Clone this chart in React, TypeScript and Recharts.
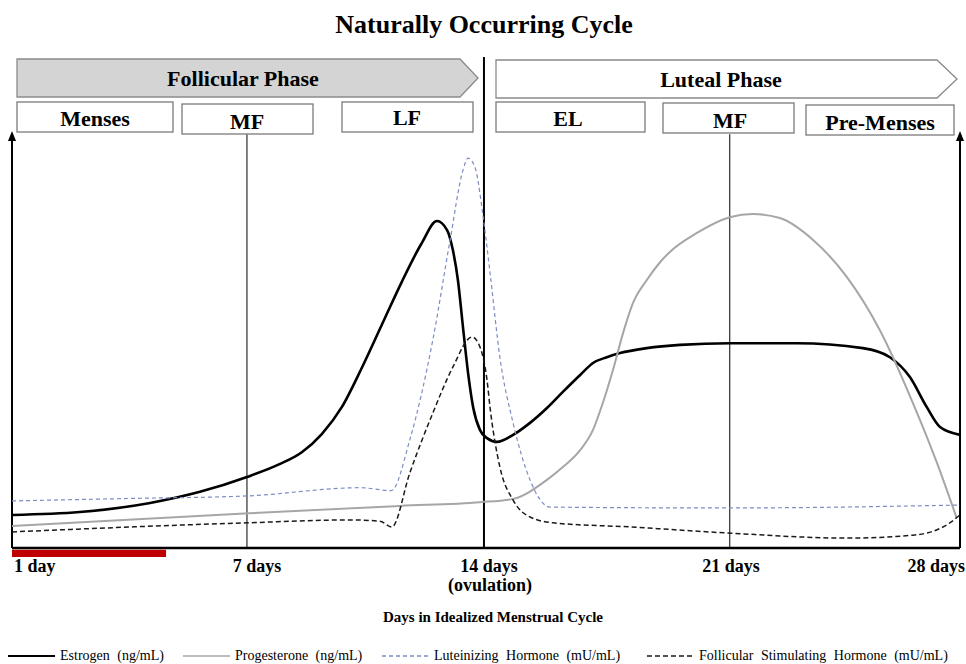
import React from 'react';
import {
  LineChart,
  Line,
  XAxis,
  YAxis,
  ReferenceLine,
  ReferenceArea,
  ReferenceDot,
  Legend,
} from 'recharts';

const TITLE = 'Naturally Occurring Cycle';
const X_TITLE = 'Days in Idealized Menstrual Cycle';
const PHASES = ['Follicular Phase', 'Luteal Phase'];
const SUB_PHASES = ['Menses', 'MF', 'LF', 'EL', 'MF', 'Pre-Menses'];

const TICK_DAYS = [0, 7, 14, 21, 28];
const TICK_LABELS = ['1 day', '7 days', '14 days|(ovulation)', '21 days', '28 days'];
const MARKER_DAYS = [6.94, 13.94, 21.2];
const MENSES_END_DAY = 4.55;

const SERIES_NAMES = [
  'Estrogen (ng/mL)',
  'Progesterone (ng/mL)',
  'Luteinizing Hormone (mU/mL)',
  'Follicular Stimulating Hormone (mU/mL)',
];

const ESTROGEN_DAYS = [0, 2.0, 4.08, 5.55, 6.94, 7.9, 8.56, 9.15, 9.74, 10.33, 10.92, 11.51, 12.1, 12.55, 12.85, 13.02, 13.17, 13.32, 13.47, 13.62, 13.82, 14.03, 14.32, 14.8, 15.3, 15.8, 16.27, 16.78, 17.16, 17.57, 17.96, 18.75, 19.73, 21.2, 23.18, 25.13, 25.93, 26.52, 27.02, 27.41, 28];
const ESTROGEN_LEVELS = [8.0, 8.7, 10.9, 13.6, 17.2, 20.3, 23.2, 27.6, 34.1, 43.6, 54.0, 64.4, 73.8, 79.2, 77.0, 72.2, 64.9, 53.5, 42.4, 34.1, 28.6, 26.6, 25.7, 27.4, 30.3, 33.9, 37.8, 41.9, 44.8, 46.2, 47.2, 48.4, 49.2, 49.6, 49.6, 48.4, 46.2, 41.4, 34.1, 29.3, 27.4];

const PROGESTERONE_DAYS = [0, 7, 11.46, 13.82, 14.8, 15.8, 16.27, 16.78, 17.16, 17.45, 17.75, 18.05, 18.34, 18.75, 19.14, 19.43, 20.23, 21.2, 21.88, 22.68, 23.66, 24.66, 25.63, 26.61, 27.32, 27.9];
const PROGESTERONE_LEVELS = [5.3, 8.4, 10.2, 11.1, 11.9, 16.5, 19.6, 23.7, 28.6, 35.1, 43.1, 52.1, 59.3, 64.9, 69.2, 71.7, 76.3, 80.1, 80.9, 79.9, 74.6, 65.6, 52.8, 35.1, 20.6, 7.3];

const LH_DAYS = [0, 3.5, 6.94, 10.28, 11.2, 11.75, 12.43, 12.94, 13.32, 13.47, 13.67, 13.91, 14.12, 14.41, 14.8, 15.3, 15.89, 21.2, 28];
const LH_LEVELS = [11.4, 12.0, 12.6, 14.6, 13.9, 26.2, 50.4, 74.6, 91.5, 94.4, 92.3, 80.6, 66.6, 46.2, 30.3, 16.5, 9.9, 9.7, 10.4];

const FSH_DAYS = [0, 6.94, 9.98, 10.87, 11.22, 11.75, 12.43, 13.02, 13.59, 13.82, 14.03, 14.12, 14.41, 14.8, 15.3, 15.98, 18.25, 21.2, 24.66, 26.61, 27.61, 28];
const FSH_LEVELS = [3.9, 6.1, 6.8, 6.5, 5.1, 18.2, 32.7, 43.8, 51.1, 48.7, 40.7, 34.0, 19.6, 11.6, 7.5, 6.1, 5.1, 3.6, 2.4, 3.1, 5.6, 8.0];

const Y_MAX = 118.9;
const AXIS_TOP = 101;
const MARKER_TOP = 100.2;

const zip = (days: number[], levels: number[]) => days.map((d, i) => ({ day: d, level: levels[i] }));

const estrogenData = zip(ESTROGEN_DAYS, ESTROGEN_LEVELS);
const progesteroneData = zip(PROGESTERONE_DAYS, PROGESTERONE_LEVELS);
const lhData = zip(LH_DAYS, LH_LEVELS);
const fshData = zip(FSH_DAYS, FSH_LEVELS);

const FONT = "'Liberation Serif', 'Times New Roman', serif";

const SERIES_STYLE = [
  { stroke: '#000000', width: 2.6, dash: undefined as string | undefined },
  { stroke: '#a6a6a6', width: 2, dash: undefined as string | undefined },
  { stroke: '#7d8cc4', width: 1.2, dash: '4 3' },
  { stroke: '#1a1a1a', width: 1.5, dash: '5 3' },
];

const TICK_DX = [2, 8, 3, 8, 5];
const TICK_ANCHOR = ['start', 'middle', 'middle', 'middle', 'end'];

function DayTick(props: any) {
  const { x, y, payload } = props;
  const i = TICK_DAYS.indexOf(payload.value);
  const lines = (TICK_LABELS[i] || '').split('|');
  return (
    <g>
      {lines.map((t, k) => (
        <text
          key={k}
          x={x + TICK_DX[i] + (k === 1 ? 1 : 0)}
          y={y + 24 + k * 19}
          textAnchor={TICK_ANCHOR[i] as any}
          fontFamily={FONT}
          fontWeight="bold"
          fontSize={18}
          fill="#000"
        >
          {t}
        </text>
      ))}
    </g>
  );
}

const LEGEND_X = [8, 183, 382, 647];

function LegendContent() {
  return (
    <svg width={966} height={20} style={{ display: 'block' }}>
      {SERIES_NAMES.map((name, i) => (
        <g key={name}>
          <line
            x1={LEGEND_X[i]}
            x2={LEGEND_X[i] + 47}
            y1={10}
            y2={10}
            stroke={SERIES_STYLE[i].stroke}
            strokeWidth={i === 0 ? 2.2 : 1.5}
            strokeDasharray={SERIES_STYLE[i].dash}
          />
          <text
            x={LEGEND_X[i] + 52}
            y={14}
            fontFamily={FONT}
            fontSize={14}
            style={{ wordSpacing: '4px' }}
            fill="#000"
          >
            {name}
          </text>
        </g>
      ))}
    </svg>
  );
}

const ArrowHead = (p: any) => (
  <path d={`M${p.cx},${p.cy} L${p.cx - 4},${p.cy + 10} L${p.cx + 4},${p.cy + 10} Z`} fill="#000" />
);

const PHASE_SHAPES = [
  { pts: '17,59 460,59 478,78 460,97 17,97', fill: '#d4d4d4', tx: 243, ty: 86 },
  { pts: '496,60 937,60 957,79 937,98 496,98', fill: '#ffffff', tx: 721, ty: 87 },
];

const BOXES = [
  { x: 17, y: 102, w: 156, h: 30, tx: 95, ty: 126 },
  { x: 182, y: 104, w: 131, h: 30, tx: 247, ty: 129 },
  { x: 342, y: 102, w: 131, h: 30, tx: 407, ty: 125 },
  { x: 496, y: 102, w: 149, h: 30, tx: 568, ty: 126 },
  { x: 663, y: 103, w: 131, h: 30, tx: 730, ty: 128 },
  { x: 806, y: 105, w: 148, h: 30, tx: 880, ty: 130 },
];

export default function App() {
  const lineData = [estrogenData, progesteroneData, lhData, fshData];
  return (
    <div style={{ position: 'relative', width: 966, height: 664, background: '#fff', fontFamily: FONT }}>
      <style>{'body{margin:0;}'}</style>
      <LineChart
        width={966}
        height={664}
        margin={{ top: 57, right: 6, bottom: 56, left: 12 }}
      >
        <XAxis
          dataKey="day"
          type="number"
          domain={[0, 28]}
          ticks={TICK_DAYS}
          interval={0}
          tick={<DayTick />}
          tickLine={false}
          tickSize={0}
          tickMargin={0}
          height={60}
          axisLine={{ stroke: '#000', strokeWidth: 2.6 }}
          allowDataOverflow
        />
        <YAxis hide type="number" domain={[0, Y_MAX]} allowDataOverflow />
        <ReferenceArea
          x1={0}
          x2={MENSES_END_DAY}
          y1={-2.2}
          y2={-0.45}
          fill="#c00000"
          fillOpacity={1}
          stroke="none"
          ifOverflow="visible"
        />
        <ReferenceLine segment={[{ x: 0, y: 0 }, { x: 0, y: AXIS_TOP - 1 }]} stroke="#000" strokeWidth={2} />
        <ReferenceLine segment={[{ x: 28, y: 0 }, { x: 28, y: AXIS_TOP - 1 }]} stroke="#000" strokeWidth={2} />
        <ReferenceDot x={0} y={AXIS_TOP} r={0} shape={ArrowHead} />
        <ReferenceDot x={28} y={AXIS_TOP} r={0} shape={ArrowHead} />
        <ReferenceLine segment={[{ x: MARKER_DAYS[0], y: 0 }, { x: MARKER_DAYS[0], y: MARKER_TOP }]} stroke="#000" strokeWidth={1} />
        <ReferenceLine x={MARKER_DAYS[1]} stroke="#000" strokeWidth={2} />
        <ReferenceLine segment={[{ x: MARKER_DAYS[2], y: 0 }, { x: MARKER_DAYS[2], y: MARKER_TOP }]} stroke="#000" strokeWidth={1} />
        {lineData.map((d, i) => (
          <Line
            key={SERIES_NAMES[i]}
            data={d}
            dataKey="level"
            name={SERIES_NAMES[i]}
            type="monotone"
            stroke={SERIES_STYLE[i].stroke}
            strokeWidth={SERIES_STYLE[i].width}
            strokeDasharray={SERIES_STYLE[i].dash}
            dot={false}
            activeDot={false}
            isAnimationActive={false}
          />
        ))}
        <Legend
          layout="horizontal"
          verticalAlign="middle"
          align="center"
          content={<LegendContent />}
          wrapperStyle={{ position: 'absolute', left: 0, top: 646, width: 966, height: 20 }}
        />
      </LineChart>
      <svg
        width={966}
        height={664}
        style={{ position: 'absolute', left: 0, top: 0, pointerEvents: 'none' }}
      >
        <text x={484} y={33} textAnchor="middle" fontFamily={FONT} fontWeight="bold" fontSize={26} fill="#000">
          {TITLE}
        </text>
        {PHASE_SHAPES.map((p, i) => (
          <g key={PHASES[i]}>
            <polygon points={p.pts} fill={p.fill} stroke="#8a8a8a" strokeWidth={1.3} />
            <text x={p.tx} y={p.ty} textAnchor="middle" fontFamily={FONT} fontWeight="bold" fontSize={22} fill="#000">
              {PHASES[i]}
            </text>
          </g>
        ))}
        {BOXES.map((b, i) => (
          <g key={i}>
            <rect x={b.x} y={b.y} width={b.w} height={b.h} fill="#fff" stroke="#7a7a7a" strokeWidth={1.3} />
            <text x={b.tx} y={b.ty} textAnchor="middle" fontFamily={FONT} fontWeight="bold" fontSize={22} fill="#000">
              {SUB_PHASES[i]}
            </text>
          </g>
        ))}
        <text x={493} y={622} textAnchor="middle" fontFamily={FONT} fontWeight="bold" fontSize={15} fill="#000">
          {X_TITLE}
        </text>
      </svg>
    </div>
  );
}
